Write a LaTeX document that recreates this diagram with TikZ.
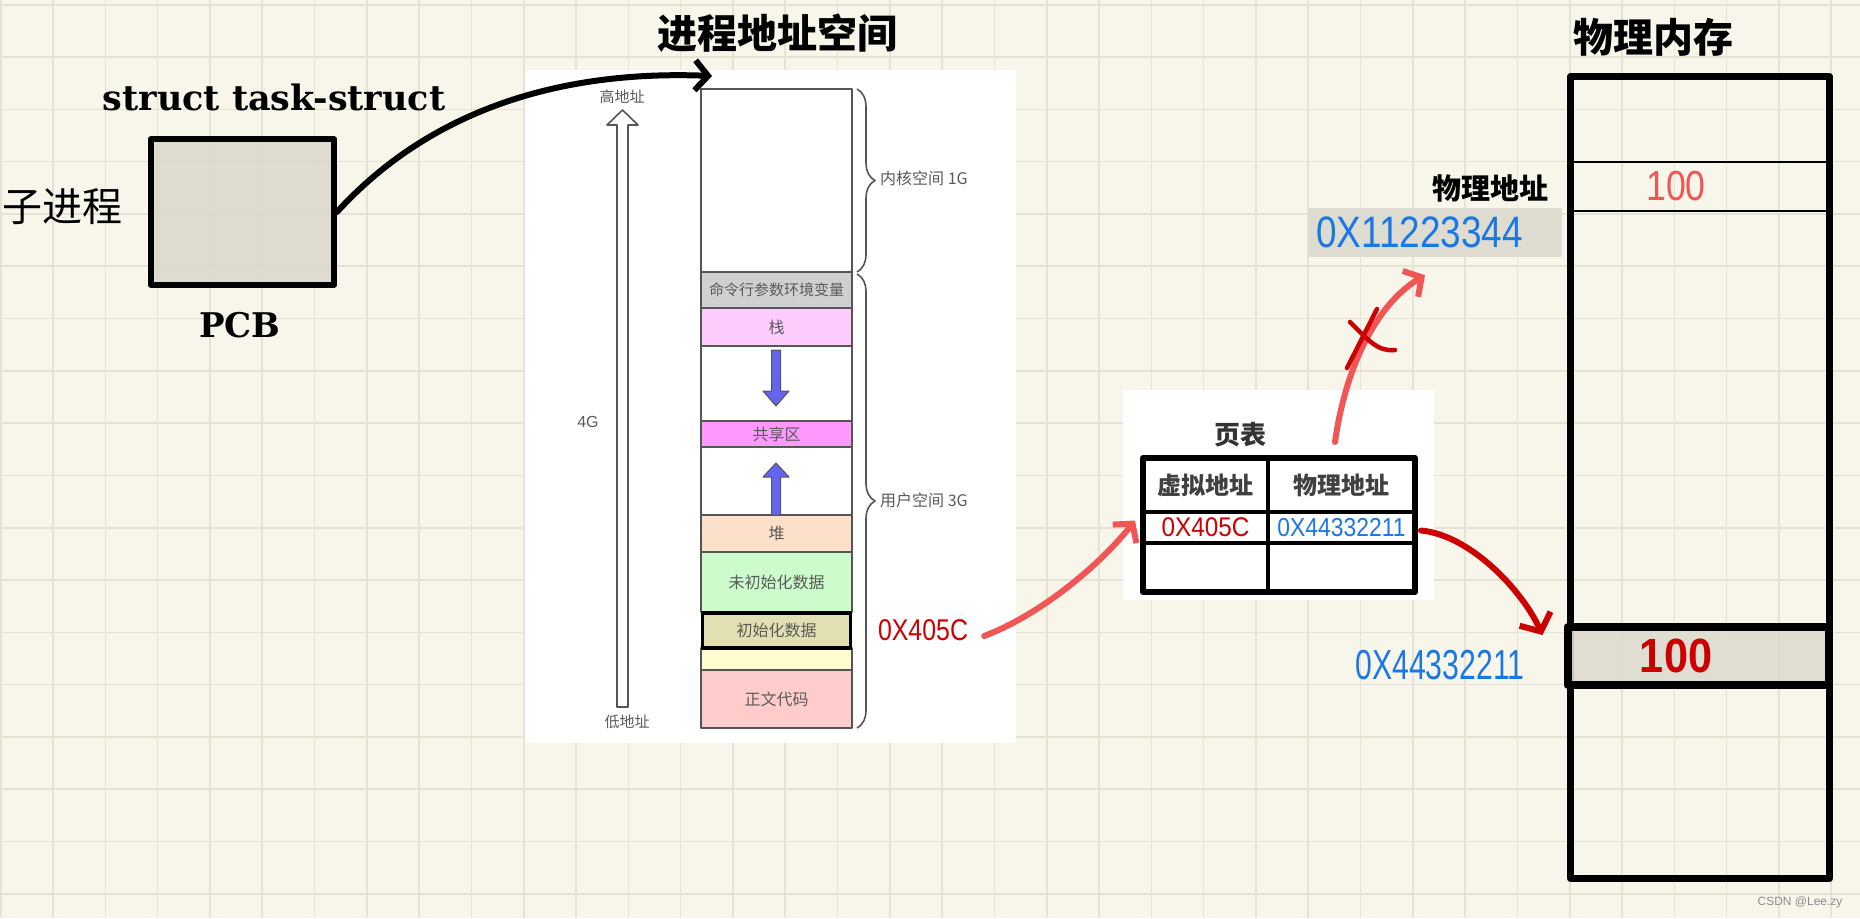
\documentclass[tikz,border=0pt]{standalone}
\usepackage{fontspec}
\setmainfont{Liberation Sans}
\newfontfamily\cjk{Noto Sans CJK SC}
\newfontfamily\typew{DejaVu Serif}
\newfontfamily\hand{Liberation Sans}
\usetikzlibrary{arrows.meta,decorations.pathreplacing}
\definecolor{bgc}{HTML}{F8F6EA}
\definecolor{gridc}{HTML}{E6E2D4}
\definecolor{pcbfill}{HTML}{DAD8CB}
\definecolor{segline}{HTML}{555555}
\definecolor{segtext}{HTML}{5A5A5A}
\definecolor{cmdc}{HTML}{D0D0D0}
\definecolor{stackc}{HTML}{FDCCFD}
\definecolor{sharedc}{HTML}{FF99FF}
\definecolor{heapc}{HTML}{FDE0CA}
\definecolor{bssc}{HTML}{CCFCCC}
\definecolor{datac}{HTML}{E2DFB2}
\definecolor{yelc}{HTML}{FFFDD0}
\definecolor{textc}{HTML}{FFCCCC}
\definecolor{arrowblue}{HTML}{6464EE}
\definecolor{lightred}{HTML}{F25555}
\definecolor{darkred}{HTML}{CC0000}
\definecolor{handblue}{HTML}{1A78E6}
\definecolor{memfill}{HTML}{DEDCD0}
\tikzset{
  seg/.style={draw=segline, line width=1.8pt, minimum width=151pt, inner sep=0pt,
    text=segtext, font=\cjk\fontsize{16}{16}\selectfont},
  smalllbl/.style={text=segtext, font=\cjk\fontsize{15}{15}\selectfont, inner sep=0pt},
  cell/.style={draw=black, line width=4pt, minimum width=125pt, inner sep=0pt},
  pcell/.style={cell, minimum width=147pt},
  bigcjk/.style={font=\cjk\bfseries\fontsize{40}{40}\selectfont, inner sep=0pt},
  blkarrow/.style={line width=6pt, line cap=round, -{Straight Barb[length=13pt,width=30pt,line width=6pt]}},
  lredarrow/.style={lightred, line width=6pt, line cap=round, -{Straight Barb[length=13pt,width=30pt,line width=6pt]}},
  dredarrow/.style={darkred, line width=6pt, line cap=round, -{Straight Barb[length=14pt,width=34pt,line width=6pt]}},
}
\begin{document}
\begin{tikzpicture}[x=1pt,y=-1pt,line join=round]
\useasboundingbox (0,0) rectangle (1860,918);
\fill[bgc] (0,0) rectangle (1860,918);
\foreach \i in {0,...,35} \draw[gridc, line width=1.6pt] (0.7+52.3*\i,0) -- (0.7+52.3*\i,918);
\foreach \j in {0,...,17} \draw[gridc, line width=1.6pt] (0,4.7+52.3*\j) -- (1860,4.7+52.3*\j);

% ---------- PCB ----------
\node[draw=black, line width=6pt, fill=pcbfill, fill opacity=.85, minimum width=183pt, minimum height=146pt, inner sep=0pt] (pcb) at (242.5,212) {};
\node[font=\typew\bfseries\fontsize{35}{35}\selectfont, inner sep=0pt] (stlbl) at (274,97) {struct task-struct};
\node[font=\cjk\fontsize{40}{40}\selectfont, inner sep=0pt] (child) at (62,207) {子进程};
\node[font=\typew\bfseries\fontsize{34}{34}\selectfont, inner sep=0pt] (pcblbl) at (240,325) {PCB};

% ---------- virtual address space ----------
\node[bigcjk] (vtitle) at (777,33) {进程地址空间};
\node[fill=white, minimum width=491pt, minimum height=673pt, inner sep=0pt] (vpanel) at (770.5,406.5) {};
\node[seg, fill=white, minimum height=183pt] (kernel) at (776.5,180.5) {};
\node[seg, fill=cmdc, minimum height=36pt] (cmd) at (776.5,290) {\fontsize{15}{15}\selectfont 命令行参数环境变量};
\node[seg, fill=stackc, minimum height=38pt] (stack) at (776.5,327) {栈};
\node[seg, fill=white, minimum height=75pt] (gapa) at (776.5,383.5) {};
\node[seg, fill=sharedc, minimum height=26pt] (shared) at (776.5,434) {共享区};
\node[seg, fill=white, minimum height=68pt] (gapb) at (776.5,481) {};
\node[seg, fill=heapc, minimum height=37pt] (heap) at (776.5,533.5) {堆};
\node[seg, fill=bssc, minimum height=60pt] (bss) at (776.5,582) {未初始化数据};
\node[seg, fill=yelc, minimum height=22pt] (yel) at (776.5,659) {};
\node[seg, fill=textc, minimum height=58pt] (code) at (776.5,699) {正文代码};
\node[seg, draw=black, line width=3.5pt, fill=datac, minimum width=148pt, minimum height=35pt] (data) at (776.5,630.5) {\raisebox{-9pt}{初始化数据}};

% blue arrows
\filldraw[fill=arrowblue, draw=segline, line width=1pt] (771.5,350) -- (780.5,350) -- (780.5,391) -- (789,391) -- (776,406) -- (763,391) -- (771.5,391) -- cycle;
\filldraw[fill=arrowblue, draw=segline, line width=1pt] (771.5,515) -- (780.5,515) -- (780.5,477) -- (789,477) -- (776,463) -- (763,477) -- (771.5,477) -- cycle;

% hollow address arrow
\draw[segline, fill=white, line width=1.6pt] (617,707) -- (628,707) -- (628,125) -- (638,125) -- (622.5,110) -- (607,125) -- (617,125) -- cycle;
\node[smalllbl] (hi) at (622,97) {高地址};
\node[smalllbl] (lo) at (627,722) {低地址};
\node[smalllbl, font=\fontsize{16}{16}\selectfont] (fourg) at (588,422) {4G};

% braces
\draw[segline, line width=1.6pt, decorate, decoration={brace, amplitude=18pt}] (857,89) -- (857,272);
\draw[segline, line width=1.6pt, decorate, decoration={brace, amplitude=18pt}] (857,274) -- (857,728);
\node[smalllbl, anchor=west, font=\cjk\fontsize{16}{16}\selectfont] (klbl) at (880,178) {内核空间 1G};
\node[smalllbl, anchor=west, font=\cjk\fontsize{16}{16}\selectfont] (ulbl) at (880,500) {用户空间 3G};

\node[text=darkred, font=\hand\fontsize{30}{30}\selectfont, inner sep=0pt] (va) at (923,630) {\scalebox{0.83}[1]{0X405C}};

% PCB -> address space arrow
\coordinate (vtop) at (712,76);
\draw[blkarrow] (pcb.east) .. controls (430,110) and (560,70) .. (vtop);

% ---------- page table ----------
\node[fill=white, minimum width=311pt, minimum height=210pt, inner sep=0pt] (ptpanel) at (1278,495) {};
\node[font=\cjk\bfseries\fontsize{26}{26}\selectfont, text=black!80, inner sep=0pt] (pttitle) at (1240,435) {页表};
\node[cell, minimum height=54pt, font=\cjk\bfseries\fontsize{24}{24}\selectfont, text=black!75] (vh) at (1205.5,485) {虚拟地址};
\node[pcell, minimum height=54pt, font=\cjk\bfseries\fontsize{24}{24}\selectfont, text=black!75] (ph) at (1341.5,485) {物理地址};
\node[cell, minimum height=31pt, text=darkred, font=\hand\fontsize{27}{27}\selectfont] (v1) at (1205.5,527.5) {\scalebox{0.9}[1]{0X405C}};
\node[pcell, minimum height=31pt, text=handblue, font=\hand\fontsize{26}{26}\selectfont] (p1) at (1341.5,527.5) {\scalebox{0.88}[1]{0X44332211}};
\node[cell, minimum height=49pt] (v2) at (1205.5,567.5) {};
\node[pcell, minimum height=49pt] (p2) at (1341.5,567.5) {};
\draw[black, line width=6pt] (1143,458) rectangle (1415,592);

% ---------- physical memory ----------
\node[bigcjk] (ptitle) at (1653,37) {物理内存};
\node[fill=memfill, minimum width=254pt, minimum height=49pt, inner sep=0pt] (addrbox) at (1435,232.5) {};
\node[text=handblue, font=\hand\fontsize{44}{44}\selectfont, anchor=west, inner sep=0pt] (pa1) at (1316,232) {\scalebox{0.84}[1]{0X11223344}};
\node[font=\cjk\bfseries\fontsize{29}{29}\selectfont, inner sep=0pt] (palbl) at (1490,188) {物理地址};
\node[draw=black, line width=7pt, minimum width=259pt, minimum height=802pt, inner sep=0pt] (mem) at (1700,477.5) {};
\node[draw=black, line width=2pt, minimum width=254pt, minimum height=49pt, inner sep=0pt, text=lightred, font=\hand\fontsize{42}{42}\selectfont] (cellA) at (1700,186.5) {\hspace*{-48pt}\scalebox{0.85}[1]{100}};
\node[draw=black, line width=8pt, fill=memfill, fill opacity=.9, text opacity=1, minimum width=261pt, minimum height=58pt, inner sep=0pt, text=darkred, font=\hand\bfseries\fontsize{48}{48}\selectfont] (cellB) at (1698,656) {\hspace*{-44pt}\scalebox{0.9}[1]{100}};
\node[text=handblue, font=\hand\fontsize{42}{42}\selectfont, inner sep=0pt] (pa2) at (1440,665) {\scalebox{0.72}[1]{0X44332211}};

% ---------- red arrows ----------
\draw[lredarrow] ([xshift=16pt,yshift=-6pt]va.east) .. controls (1040,615) and (1100,565) .. ([shift={(-6,-7)}]v1.west);
\coordinate (upstart) at (1335,442);
\draw[lredarrow] (upstart) .. controls (1345,370) and (1375,305) .. ([shift={(-10,18)}]addrbox.south);
\draw[darkred, line width=4.5pt, line cap=round] (1377,309) -- (1347,368);
\draw[darkred, line width=4.5pt, line cap=round] (1350,322) .. controls (1368,340) and (1378,352) .. (1395,350);
\draw[dredarrow] ([xshift=4pt,yshift=-3pt]p1.east) .. controls (1470,535) and (1522,590) .. ([shift={(-21,-21)}]cellB.west);

\node[text=black!45, font=\fontsize{12}{12}\selectfont, inner sep=0pt] (wm) at (1800,902) {CSDN @Lee.zy};
\end{tikzpicture}
\end{document}
